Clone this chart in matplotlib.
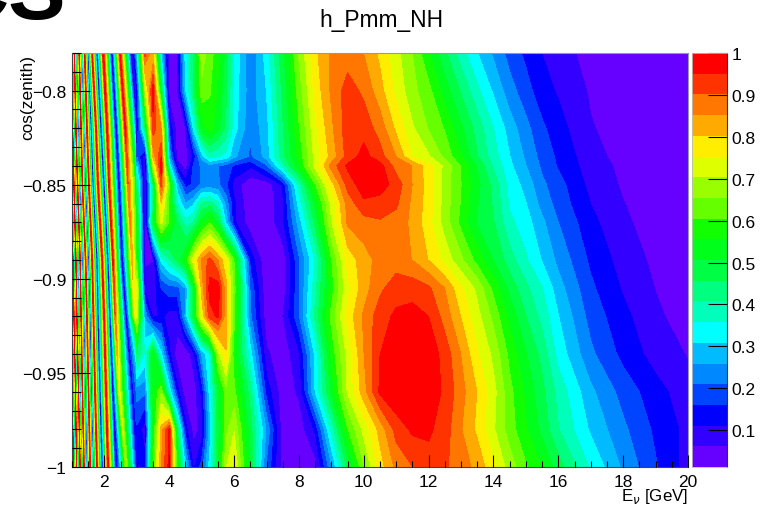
import numpy as np
import matplotlib
matplotlib.use('Agg')
import matplotlib.pyplot as plt
from matplotlib.ticker import FixedLocator, MultipleLocator

plt.rcParams['font.family'] = ['Liberation Sans', 'DejaVu Sans']

title = 'h_Pmm_NH'
xlabel = r'E$_{\nu}$ [GeV]'
ylabel = 'cos(zenith)'
clipped_text = 'CS'

# main part of the map
main_E = [3, 3.25, 3.5, 3.75, 4, 4.25, 4.5, 4.75, 5, 5.25, 5.5, 5.75, 6, 6.5, 7, 7.5, 8, 8.5, 9, 9.5, 10,
          10.5, 11, 11.5, 12, 12.5, 13, 13.5, 14, 14.5, 15, 15.5, 16, 17, 18, 19, 20]
main_cos = [-0.78, -0.80, -0.82, -0.835, -0.84, -0.85, -0.86, -0.87, -0.89, -0.905, -0.92, -0.94, -0.96, -0.98, -1]
r78 = [.28, .92, .80, .30, .03, .06, .33, .46, .68, .63, .57, .49, .35, .22, .33, .49, .66, .79, .86, .875, .85,
       .79, .72, .653, .56, .467, .38, .31, .25, .19, .148, .11, .08, .045, .03, .02, .015]
r80 = [.12, .70, .98, .50, .03, .06, .30, .45, .64, .61, .55, .47, .34, .23, .31, .47, .63, .77, .86, .925, .89,
       .82, .74, .67, .62, .53, .45, .37, .30, .23, .18, .13, .105, .055, .035, .022, .016]
r82 = [.10, .45, .93, .85, .15, .03, .06, .32, .53, .58, .52, .44, .33, .22, .29, .45, .60, .74, .84, .93, .93,
       .88, .79, .71, .65, .60, .515, .435, .358, .285, .225, .17, .13, .065, .04, .025, .017]
r835 = [.20, .08, .82, .95, .25, .03, .04, .12, .28, .38, .36, .34, .27, .20, .28, .44, .57, .72, .82, .92, .97,
        .92, .85, .75, .71, .64, .56, .46, .38, .31, .25, .19, .15, .078, .045, .028, .018]
r84 = [.30, .03, .70, .98, .35, .10, .03, .17, .22, .24, .21, .19, .15, .12, .20, .38, .55, .72, .87, .96, .98,
       .97, .88, .85, .77, .69, .60, .50, .40, .32, .26, .20, .155, .085, .05, .03, .02]
r85 = [.45, .05, .45, .92, .62, .27, .14, .17, .22, .23, .22, .17, .09, .02, .03, .12, .38, .60, .78, .92, .98,
       .975, .93, .85, .78, .68, .605, .52, .44, .34, .29, .22, .18, .095, .055, .033, .022]
r86 = [.50, .03, .42, .80, .58, .36, .26, .30, .42, .43, .37, .24, .12, .02, .02, .10, .33, .52, .72, .87, .94,
       .93, .91, .84, .78, .68, .60, .51, .45, .35, .31, .24, .19, .11, .063, .036, .023]
r87 = [.55, .03, .50, .72, .60, .47, .38, .41, .53, .60, .50, .30, .12, .03, .02, .10, .28, .47, .70, .86, .88,
       .895, .88, .84, .77, .68, .59, .50, .46, .37, .33, .27, .21, .125, .07, .04, .025]
r89 = [.60, .05, .06, .32, .40, .47, .56, .74, .86, .92, .85, .76, .60, .14, .02, .03, .20, .36, .60, .77, .83,
       .87, .875, .85, .80, .735, .665, .585, .505, .43, .365, .305, .245, .15, .09, .05, .03]
r905 = [.75, .09, .08, .16, .19, .19, .26, .50, .82, .97, .98, .82, .63, .20, .02, .03, .20, .39, .58, .74, .83,
        .89, .93, .93, .91, .85, .76, .69, .59, .49, .42, .36, .28, .17, .105, .06, .035]
r92 = [.72, .25, .10, .12, .09, .09, .27, .50, .76, .93, .96, .82, .62, .22, .03, .06, .20, .42, .62, .77, .86,
       .93, .96, .97, .95, .88, .80, .72, .64, .54, .457, .39, .31, .19, .125, .07, .04]
r94 = [.45, .35, .55, .32, .12, .03, .02, .09, .26, .36, .68, .80, .57, .33, .07, .03, .10, .32, .57, .72, .85,
       .95, .985, .99, .985, .93, .85, .76, .69, .59, .51, .44, .34, .22, .145, .09, .058]
r96 = [.23, .22, .55, .65, .35, .13, .03, .03, .12, .33, .50, .63, .62, .43, .14, .03, .07, .31, .52, .71, .83,
       .96, .995, .995, .985, .94, .87, .80, .72, .62, .545, .47, .39, .27, .19, .13, .08]
r98 = [.15, .08, .55, .82, .96, .45, .13, .04, .08, .28, .48, .64, .70, .48, .25, .03, .03, .12, .37, .60, .72,
       .82, .92, .96, .96, .925, .855, .79, .71, .63, .56, .49, .41, .30, .22, .15, .095]
r100 = [.10, .13, .60, .85, .97, .58, .30, .10, .18, .33, .50, .70, .76, .50, .20, .04, .03, .04, .25, .47, .65,
        .78, .865, .90, .93, .91, .87, .84, .76, .68, .61, .555, .48, .35, .25, .165, .09]
main_z = [r78, r80, r82, r835, r84, r85, r86, r87, r89, r905, r92, r94, r96, r98, r100]

# fast stripes at low energy: peak and trough positions for each row, they lean with cos
stripe_cos = [-0.78, -0.82, -0.85, -0.89, -0.92, -0.96, -1]
stripe_E78 = [.66, .72, .78, .83, .88, .92, .97, 1.02, 1.07, 1.15, 1.22, 1.30, 1.39, 1.49, 1.62, 1.77, 1.96, 2.23, 2.48, 2.85, 3.41]
stripe_E82 = [.71, .77, .83, .88, .92, .97, 1.02, 1.06, 1.12, 1.20, 1.28, 1.37, 1.46, 1.59, 1.74, 1.89, 2.08, 2.36, 2.64, 3.04, 3.71]
stripe_E85 = [.74, .80, .86, .91, .95, 1.00, 1.06, 1.11, 1.17, 1.25, 1.32, 1.42, 1.52, 1.65, 1.80, 1.99, 2.14, 2.45, 2.73, 3.31, 3.87]
stripe_E89 = [.81, .88, .94, .98, 1.03, 1.08, 1.12, 1.19, 1.25, 1.32, 1.42, 1.51, 1.62, 1.77, 1.93, 2.11, 2.26, 2.54, 2.85, 3.28, 4.18]
stripe_E92 = [.85, .91, .97, 1.02, 1.06, 1.11, 1.15, 1.22, 1.28, 1.37, 1.46, 1.56, 1.66, 1.80, 1.99, 2.17, 2.33, 2.67, 2.94, 3.87, 4.64]
stripe_E96 = [.91, .95, 1.00, 1.05, 1.11, 1.15, 1.20, 1.26, 1.32, 1.42, 1.51, 1.60, 1.71, 1.86, 2.05, 2.26, 2.45, 2.85, 3.65, 4.49, 4.95]
stripe_E100 = [.97, 1.00, 1.05, 1.09, 1.14, 1.19, 1.25, 1.31, 1.37, 1.46, 1.56, 1.66, 1.77, 1.93, 2.11, 2.36, 2.67, 3.01, 3.96, 4.70, 5.26]
stripe_E = [stripe_E78, stripe_E82, stripe_E85, stripe_E89, stripe_E92, stripe_E96, stripe_E100]
fast_part = [.98, .04] * 8
stripe_z = [fast_part + [1.0, .04, .97, .03, .95],
            fast_part + [.98, .04, .97, .03, .90],
            fast_part + [.97, .05, .90, .05, .90],
            fast_part + [.97, .06, .83, .05, .40],
            fast_part + [.90, .08, .75, .10, .40],
            fast_part + [.75, .12, .68, .10, .40],
            fast_part + [.68, .10, .97, .10, .40]]

z_min = 0.012
z_max = 1.0
n_levels = 20
band_colors = ['#6600ff', '#3300ff', '#0000ff', '#0044ff', '#0088ff', '#00bbff', '#00ffff',
               '#00ffbb', '#00ff80', '#00ff44', '#00ff1a', '#11ff00', '#66ff00', '#99ff00',
               '#ddff00', '#ffee00', '#ffaa00', '#ff7700', '#ff3300', '#ff0000']
bar_ticks = [0.1, 0.2, 0.3, 0.4, 0.5, 0.6, 0.7, 0.8, 0.9, 1]
y_ticks = [-1, -0.95, -0.9, -0.85, -0.8]

W, H = 767, 506
fig = plt.figure(figsize=(W/100, H/100), dpi=100)
ax = fig.add_axes([72/W, 1-468/H, 616/W, 414/H])
levels = np.linspace(z_min, z_max, n_levels+1)

cos_grid = np.tile(np.array(stripe_cos)[:, None], (1, len(stripe_E78)))
ax.contourf(np.array(stripe_E), cos_grid, np.array(stripe_z), levels=levels, colors=band_colors, zorder=1)
cs = ax.contourf(main_E, main_cos, np.array(main_z), levels=levels, colors=band_colors, zorder=2)

ax.set_xlim(1, 20)
ax.set_ylim(-1, -0.78)
ax.xaxis.set_major_locator(FixedLocator(range(2, 21, 2)))
ax.xaxis.set_minor_locator(MultipleLocator(0.5))
ax.yaxis.set_major_locator(FixedLocator(y_ticks))
ax.yaxis.set_minor_locator(MultipleLocator(0.01))
ax.set_yticklabels(['\u22121', '\u22120.95', '\u22120.9', '\u22120.85', '\u22120.8'])
ax.tick_params(axis='x', which='major', direction='in', length=8.5, width=0.8, labelsize=12.5, pad=5, zorder=5)
ax.tick_params(axis='x', which='minor', direction='in', length=4.3, width=0.8, zorder=5)
ax.tick_params(axis='y', which='major', direction='in', length=13, width=0.8, labelsize=12.5, pad=4, zorder=5)
ax.tick_params(axis='y', which='minor', direction='in', length=6.5, width=0.8, zorder=5)
ax.set_axisbelow(False)
for side in ['top', 'right']:
    ax.spines[side].set_color('#999999')
    ax.spines[side].set_linewidth(0.8)
for side in ['left', 'bottom']:
    ax.spines[side].set_color('#444444')
    ax.spines[side].set_linewidth(0.8)

cax = fig.add_axes([692/W, 1-468/H, 35/W, 414/H])
cax.pcolormesh([0, 1], levels, np.arange(n_levels)[:, None], cmap=matplotlib.colors.ListedColormap(band_colors))
cax.set_xticks([])
cax.yaxis.tick_right()
cax.set_yticks(bar_ticks)
cax.set_yticklabels(['0.1', '0.2', '0.3', '0.4', '0.5', '0.6', '0.7', '0.8', '0.9', '1'])
cax.set_ylim(z_min, z_max)
cax.tick_params(axis='y', direction='in', length=13.5, width=0.8, labelsize=12.5, pad=3)
for side in ['top', 'left', 'bottom']:
    cax.spines[side].set_color('#bbbbbb')
    cax.spines[side].set_linewidth(0.6)
cax.spines['right'].set_color('#333333')
cax.spines['right'].set_linewidth(0.8)

fig.text(381/W, 1-21/H, title, fontsize=16.4, ha='center', va='center')
fig.text(688/W, 1-497/H, xlabel, fontsize=12.2, ha='right', va='center')
fig.text(28/W, 1-55/H, ylabel, fontsize=12.4, rotation=90, ha='center', va='top')
fig.text(-53/W, 1-19/H, clipped_text, fontsize=62, fontweight='bold', ha='left', va='baseline')

fig.savefig('out.png', dpi=100)
